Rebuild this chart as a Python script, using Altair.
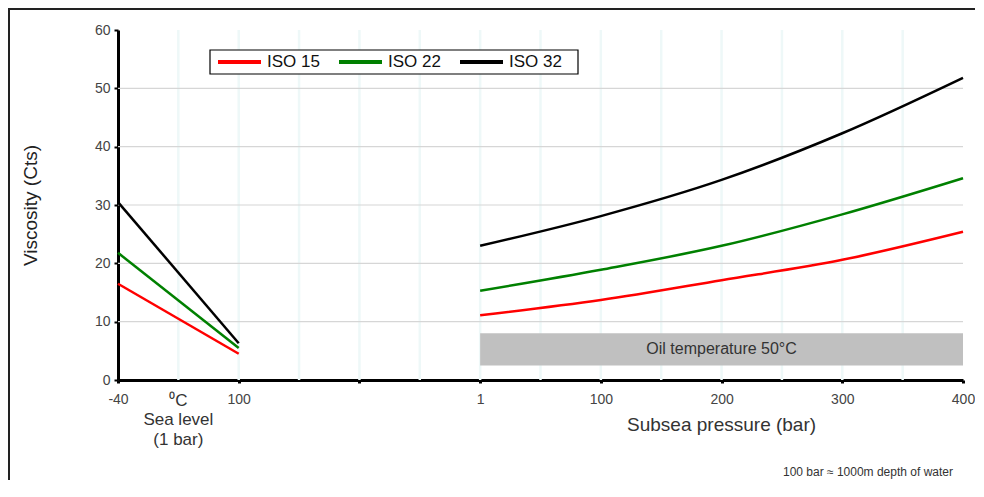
import altair as alt
import pandas as pd

# ---- data ----
x_labels = ["-40", "100", "", "1", "100", "200", "300", "400"]   # tick labels at positions 0..7
series = ["ISO 15", "ISO 22", "ISO 32"]
colors = ["#ff0000", "#008000", "#000000"]

left_pos = [0, 1]                      # -40 °C, 100 °C at sea level
iso15_left = [16.5, 4.5]
iso22_left = [21.8, 5.5]
iso32_left = [30.5, 6.3]

right_pos = [3, 4, 5, 6, 7]            # 1, 100, 200, 300, 400 bar
iso15_right = [11.1, 13.7, 17.1, 20.6, 25.4]
iso22_right = [15.3, 18.9, 23.0, 28.4, 34.6]
iso32_right = [23.0, 28.1, 34.3, 42.3, 51.8]

y_ticks = [0, 10, 20, 30, 40, 50, 60]
y_grid = [10, 20, 30, 40, 50]
x_grid = [0.5, 1, 1.5, 2, 2.5, 3, 3.5, 4, 4.5, 5, 5.5, 6, 6.5]

band_x = [3, 7]
band_y = [2.5, 8.0]
band_label = "Oil temperature 50°C"

W, H = 845, 350
PAD_R = 12
PAD_B = 100
font = "Liberation Sans"

rows = []
for name, lv, rv in zip(series, [iso15_left, iso22_left, iso32_left],
                        [iso15_right, iso22_right, iso32_right]):
    for p, v in zip(left_pos, lv):
        rows.append({"series": name, "seg": name + "-L", "x": p, "y": v})
    for p, v in zip(right_pos, rv):
        rows.append({"series": name, "seg": name + "-R", "x": p, "y": v})
lines_df = pd.DataFrame(rows)

xscale = alt.Scale(domain=[0, 7], nice=False, zero=False)
yscale = alt.Scale(domain=[0, 60], nice=False)
cscale = alt.Scale(domain=series, range=colors)

label_expr = "[" + ",".join('"%s"' % s for s in x_labels) + "][datum.value]"

# outer frame: only its top and left edges fall inside the canvas
frame = alt.Chart(pd.DataFrame({"a": [0]})).mark_rect(
    fill="transparent", stroke="#222222", strokeWidth=2
).encode(x=alt.value(-109), x2=alt.value(W + PAD_R + 60),
         y=alt.value(-21), y2=alt.value(H + PAD_B + 60))

vgrid = alt.Chart(pd.DataFrame({"x": x_grid})).mark_rule(
    color="#eef8f8", strokeWidth=2.5
).encode(x=alt.X("x:Q", scale=xscale), y=alt.value(0), y2=alt.value(H))

hgrid = alt.Chart(pd.DataFrame({"y": y_grid})).mark_rule(
    color="#d6d6d6", strokeWidth=1.2
).encode(y=alt.Y("y:Q", scale=yscale), x=alt.value(0), x2=alt.value(W))

band = alt.Chart(pd.DataFrame({"x": [band_x[0]], "x2": [band_x[1]],
                               "y": [band_y[0]], "y2": [band_y[1]]})).mark_rect(
    color="#c0c0c0"
).encode(x=alt.X("x:Q", scale=xscale), x2="x2:Q",
         y=alt.Y("y:Q", scale=yscale), y2="y2:Q")

band_text = alt.Chart(pd.DataFrame({"x": [(band_x[0] + band_x[1]) / 2],
                                    "y": [(band_y[0] + band_y[1]) / 2],
                                    "t": [band_label]})).mark_text(
    font=font, fontSize=16, color="#333333"
).encode(x=alt.X("x:Q", scale=xscale), y=alt.Y("y:Q", scale=yscale), text="t:N")

lines = alt.Chart(lines_df).mark_line(strokeWidth=2.5, interpolate="monotone").encode(
    x=alt.X("x:Q", scale=xscale,
            axis=alt.Axis(values=list(range(8)), labelExpr=label_expr, title=None,
                          grid=False, domainWidth=3, domainColor="black",
                          tickColor="black", tickWidth=3, tickSize=3,
                          labelFont=font, labelFontSize=14, labelColor="#444444",
                          labelPadding=9, labelFlush=False)),
    y=alt.Y("y:Q", scale=yscale,
            axis=alt.Axis(values=y_ticks, title="Viscosity (Cts)",
                          grid=False, domainWidth=3, domainColor="black",
                          tickColor="black", tickWidth=2, tickSize=4,
                          labelFont=font, labelFontSize=14, labelColor="#444444",
                          labelPadding=4, titleFont=font, titleFontSize=19,
                          titleFontWeight="normal", titleColor="#222222",
                          titleX=-88, titleY=H / 2, titleAngle=270,
                          titleAlign="center", titleBaseline="middle")),
    color=alt.Color("series:N", scale=cscale, legend=None),
    detail="seg:N",
)

# legend drawn as marks (box + stroke symbols + labels), placed like the reference
leg_box = alt.Chart(pd.DataFrame({"a": [0]})).mark_rect(
    fill="white", stroke="black", strokeWidth=1.2
).encode(x=alt.value(92), x2=alt.value(460), y=alt.value(20), y2=alt.value(44))

leg_df = pd.DataFrame({
    "series": series,
    "i": list(range(len(series))),
})
leg_sym = alt.Chart(leg_df).transform_calculate(
    x0="100 + datum.i * 121", x1="143 + datum.i * 121"
).mark_rule(strokeWidth=4).encode(
    x=alt.X("x0:Q", scale=None), x2="x1:Q", y=alt.value(32),
    color=alt.Color("series:N", scale=cscale, legend=None))
leg_lab = alt.Chart(leg_df).transform_calculate(
    lx="149 + datum.i * 121"
).mark_text(font=font, fontSize=17, color="#111111", align="left", baseline="middle").encode(
    x=alt.X("lx:Q", scale=None), y=alt.value(32), text="series:N")

ann_df = pd.DataFrame({
    "x": [0.5, 0.5, 0.5, 5.0],
    "py": [371, 390, 410, 395],
    "fs": [17, 17, 17, 19],
    "t": ["⁰C", "Sea level", "(1 bar)", "Subsea pressure (bar)"],
})
ann = alt.Chart(ann_df).mark_text(font=font, color="#333333", baseline="middle").encode(
    x=alt.X("x:Q", scale=xscale), y=alt.Y("py:Q", scale=None), text="t:N",
    size=alt.Size("fs:Q", scale=None, legend=None))

note = alt.Chart(pd.DataFrame({"t": ["100 bar ≈ 1000m depth of water"]})).mark_text(
    font=font, fontSize=12, color="#333333", align="right", baseline="middle"
).encode(x=alt.value(W - 10), y=alt.value(H + PAD_B - 8), text="t:N")

chart = alt.layer(frame, vgrid, hgrid, band, band_text, lines, leg_box, leg_sym, leg_lab,
                  ann, note).properties(
    width=W, height=H,
    autosize=alt.AutoSizeParams(type="none"),
    padding={"left": 110, "top": 22, "right": PAD_R, "bottom": PAD_B},
).configure_view(stroke=None)

chart.save("out.html", embed_options={"renderer": "svg", "actions": False})
